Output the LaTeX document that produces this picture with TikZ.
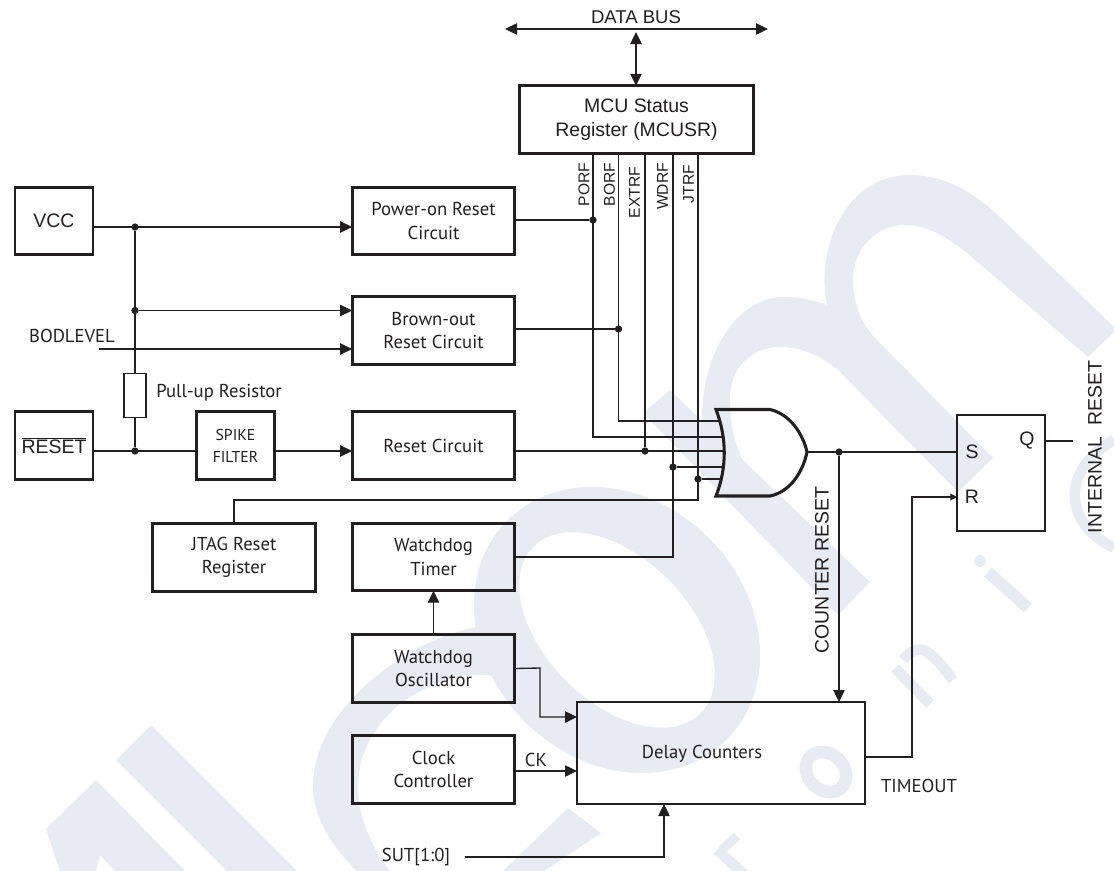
\documentclass[tikz,border=0pt]{standalone}
\usepackage{fontspec}
\setmainfont{Liberation Sans}
\newfontfamily\thinfont{PT Sans}
\usetikzlibrary{arrows.meta}
\definecolor{inkblack}{HTML}{231F20}
\definecolor{markblue}{HTML}{E7ECF4}
\tikzset{
    wide/.style={draw=inkblack, line width=2.1pt, minimum width=122pt, minimum height=50.5pt, align=center, font=\thinfont\fontsize{14}{17.6}\selectfont},
    narrow/.style={draw=inkblack, line width=2.1pt, minimum width=58.5pt, minimum height=50.5pt, align=center},
    armlabel/.style={font=\fontsize{14.6}{18}\selectfont},
    thinlabel/.style={font=\thinfont\fontsize{14}{17.6}\selectfont},
    flaglabel/.style={rotate=90, anchor=east, font=\fontsize{11.7}{14}\selectfont},
    junction/.style={circle, fill=inkblack, minimum size=5.5pt},
    wire/.style={draw=inkblack, line width=1pt},
    small tip/.style={-{Triangle[length=5pt,width=5pt]}},
    >={Triangle[length=9pt,width=8.5pt]}
}
\begin{document}
\begin{tikzpicture}[x=0.75pt, y=-0.75pt, text=inkblack]
    \tikzstyle{every node}+=[inner sep=0pt, outer sep=0pt]
    \useasboundingbox (0,0) rectangle (1114,871);
    \begin{scope}
    \clip (0,0) rectangle (1114,871);
    \fill [markblue] (151,725) -- (116,760) -- (227,871) -- (297,871) -- cycle;
    \fill [markblue] (96,780) -- (46,829) -- (60,871) -- (96,871) -- (100,855) -- (115,871) -- (185,871) -- cycle;
    \fill [markblue] (500,625) .. controls (470,625) and (445,635) .. (420,647) .. controls (360,680) and (313,730) .. (313,787) .. controls (313,815) and (330,845) .. (357,871) -- (390,871) .. controls (370,845) and (358,815) .. (358,787) .. controls (358,745) and (385,710) .. (417,693) .. controls (450,675) and (480,670) .. (510,680) -- cycle;
    \fill [markblue] (568,808) -- (601,833) -- (544,871) -- (503,871) -- cycle;
    \fill [markblue, even odd rule] (617,630) ellipse [x radius=155, y radius=130, rotate=-45]
        (617,630) ellipse [x radius=118, y radius=72, rotate=-45];
    \fill [markblue] (670,390) -- (643,413) -- (838,615) -- (870,582) -- cycle;
    \fill [markblue] (703,440) .. controls (695,360) and (735,297) .. (783,297) .. controls (800,297) and (815,300) .. (827,305) .. controls (815,240) and (850,175) .. (910,175) .. controls (945,175) and (975,193) .. (1000,217) -- (1114,327) -- (1114,332) -- (1088,357) -- (967,253) .. controls (945,235) and (925,225) .. (905,225) .. controls (875,225) and (853,250) .. (853,280) .. controls (853,305) and (862,325) .. (877,340) -- (993,458) -- (958,492) -- (838,370) .. controls (820,355) and (800,347) .. (780,347) .. controls (750,347) and (730,370) .. (730,397) .. controls (730,425) and (735,445) .. (745,465) -- cycle;
    \draw [markblue, line width=9pt] (988,572) -- (1028,608);
    \fill [markblue] (980,561) circle [radius=6];
    \draw [markblue, line width=8pt] (895,668) -- (930,704);
    \draw [markblue, line width=8pt] (903,660) .. controls (920,640) and (930,650) .. (953,680);
    \draw [markblue, line width=9.5pt] (826,772) ellipse [x radius=22, y radius=18, rotate=-45];
    \draw [markblue, line width=8pt] (717,850) -- (745,875);
    \draw [markblue, line width=7pt] (722,850) -- (737,836);
    \draw [markblue, line width=8pt] (1114,440) .. controls (1085,455) and (1060,490) .. (1085,525) .. controls (1092,535) and (1103,542) .. (1114,548);
    \end{scope}
    \node (vcc) [narrow, armlabel] at (54,221) {VCC};
    \node (resetpin) [narrow, armlabel] at (54,445.5) {$\overline{\mbox{RESET}}$};
    \node (poweron) [wide] at (433.5,221) {Power-on Reset\\Circuit};
    \node (brownout) [wide] at (433.5,330.5) {Brown-out\\Reset Circuit};
    \node (resetcircuit) [wide] at (433.5,445.5) {Reset Circuit};
    \node (spikefilter) [narrow, font=\thinfont\fontsize{11.8}{16.5}\selectfont] at (235.5,445.5) {SPIKE\\FILTER};
    \node (jtagreg) [wide] at (234,557.5) {JTAG Reset\\Register};
    \node (wdtimer) [wide] at (433.5,557) {Watchdog\\Timer};
    \node (wdosc) [wide] at (433.5,668.5) {Watchdog\\Oscillator};
    \node (clockctl) [wide] at (433.5,769.5) {Clock\\Controller};
    \node (delaycnt) [draw=inkblack, line width=2.1pt, minimum width=216pt, minimum height=76.5pt, thinlabel] at (721,753) {};
    \node (delaytext) [thinlabel] at (702,754) {Delay Counters};
    \node (mcusr) [draw=inkblack, line width=2.1pt, minimum width=176pt, minimum height=50.5pt, align=center, font=\fontsize{14.6}{18}\selectfont] at (636.5,119.5) {MCU Status\\Register (MCUSR)};
    \node (srlatch) [draw=inkblack, line width=2.1pt, minimum width=66pt, minimum height=87pt] at (1001,473) {};
    \node (pullup) [draw=inkblack, line width=0.9pt, minimum width=16.5pt, minimum height=33.5pt] at (135,395.5) {};
    \node (busleft) at (505,29) {};
    \node (busright) at (768,29) {};
    \node (bustap) at (636,29) {};
    \node (buslabel) [font=\fontsize{13.9}{16}\selectfont] at (636,17) {DATA BUS};
    \node (bodlabel) [thinlabel] at (72,336) {BODLEVEL};
    \node (pulluplabel) [thinlabel] at (219,393) {Pull-up Resistor};
    \node (cklabel) [thinlabel] at (536,760) {CK};
    \node (sutlabel) [thinlabel] at (416,857) {SUT[1:0]};
    \node (timeoutlabel) [thinlabel] at (919,786) {TIMEOUT};
    \node (slabel) [armlabel] at (972,452) {S};
    \node (rlabel) [armlabel] at (972,497) {R};
    \node (qlabel) [armlabel] at (1027,441) {Q};
    \node (counterlabel) [armlabel, rotate=90] at (822,570) {COUNTER RESET};
    \node (internallabel) [armlabel, rotate=90] at (1095,447) {INTERNAL\ \ RESET};
    \node (porflabel) [flaglabel] at (584,163) {PORF};
    \node (borflabel) [flaglabel] at (609.5,163) {BORF};
    \node (extrflabel) [flaglabel] at (634.5,167) {EXTRF};
    \node (wdrflabel) [flaglabel] at (662.5,163) {WDRF};
    \node (jtrflabel) [flaglabel] at (688.5,165) {JTRF};
    \node (dotvcc) [junction] at (135,227) {};
    \node (dotbrown) [junction] at (135,310.5) {};
    \node (dotreset) [junction] at (135,451) {};
    \node (dotporf) [junction] at (593,220) {};
    \node (dotborf) [junction] at (618.5,329) {};
    \node (dotextrf) [junction] at (645,451) {};
    \node (dotwdrf) [junction] at (673,467) {};
    \node (dotjtrf) [junction] at (698,479) {};
    \node (dotcounter) [junction] at (839,452) {};
    \coordinate (gatetip) at (807,452);
    \coordinate (inborf) at (719,421);
    \coordinate (inporf) at (723,437);
    \coordinate (inextrf) at (725,451);
    \coordinate (inwdrf) at (724,467);
    \coordinate (injtrf) at (721,479);
    \coordinate (bodstart) at (99,349);
    \coordinate (sutstart) at (464.5,857);
    \coordinate (qend) at (1073,441);
    \draw [draw=inkblack, line width=2.3pt, line join=miter] (716,409.5) -- (770,409.5) .. controls (790,414) and (803,434) .. (gatetip) .. controls (803,472) and (790,492) .. (770,496) -- (716,496) .. controls (727,468) and (727,438) .. (716,409.5) -- cycle;
    \draw [wire, <->] (busleft.center) -- (busright.center);
    \draw [wire, <->] (bustap.center) ++(0,3) -- (mcusr.north -| bustap);
    \draw [wire, ->] (vcc.east |- dotvcc) -- (poweron.west |- dotvcc);
    \draw [wire] (dotvcc) -- (pullup.north);
    \draw [wire] (pullup.south) -- (dotreset);
    \draw [wire, ->] (dotbrown) -- (brownout.west |- dotbrown);
    \draw [wire, ->] (bodstart) -- (brownout.west |- bodstart);
    \draw [wire] (resetpin.east |- dotreset) -- (spikefilter.west |- dotreset);
    \draw [wire, ->] (spikefilter.east |- dotreset) -- (resetcircuit.west |- dotreset);
    \draw [wire] (poweron.east |- dotporf) -- (dotporf);
    \draw [wire] (brownout.east |- dotborf) -- (dotborf);
    \draw [wire] (resetcircuit.east |- dotextrf) -- (inextrf);
    \draw [wire] (mcusr.south -| dotporf) |- (inporf);
    \draw [wire] (mcusr.south -| dotborf) |- (inborf);
    \draw [wire] (mcusr.south -| dotextrf) -- (dotextrf);
    \draw [wire] (mcusr.south -| dotwdrf) |- (wdtimer.east);
    \draw [wire] (mcusr.south -| dotjtrf) |- (jtagreg.north |- 0,500) -- (jtagreg.north);
    \draw [wire] (dotwdrf) -- (inwdrf);
    \draw [wire] (dotjtrf) -- (injtrf);
    \draw [wire] (gatetip) -- (srlatch.west |- gatetip);
    \draw [wire, ->] (dotcounter) -- (delaycnt.north -| dotcounter);
    \draw [wire, ->] (wdosc.north) -- (wdtimer.south);
    \draw [wire, ->] (wdosc.east) -- (540,668) |- (delaycnt.west |- 0,717);
    \draw [wire, ->] (clockctl.east |- 0,771) -- (delaycnt.west |- 0,771);
    \draw [wire, ->] (sutstart) -| (664,804);
    \draw [wire, small tip] (delaycnt.east |- 0,757) -- (912,757) |- (srlatch.west |- 0,497);
    \draw [wire] (srlatch.east |- qend) -- (qend);
\end{tikzpicture}
\end{document}
